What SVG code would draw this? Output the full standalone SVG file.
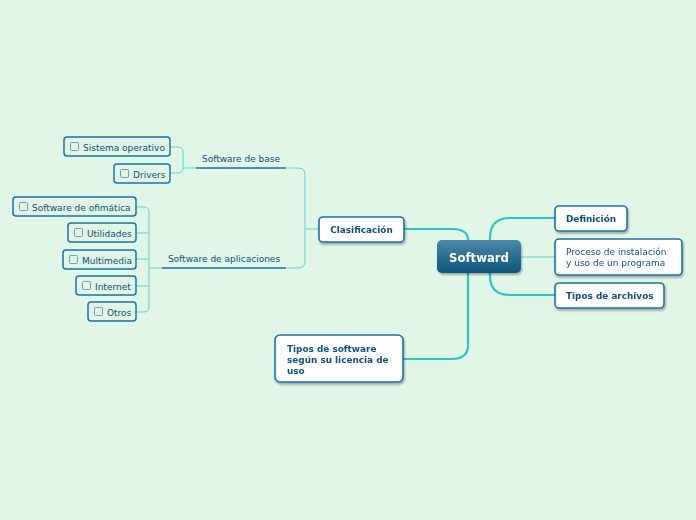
<svg xmlns="http://www.w3.org/2000/svg" width="696" height="520" viewBox="0 0 696 520">
<defs>
<linearGradient id="cg" x1="0" y1="0" x2="0" y2="1">
<stop offset="0" stop-color="#4b88a8"/>
<stop offset="1" stop-color="#0d5479"/>
</linearGradient>
<filter id="sh" x="-20%" y="-20%" width="140%" height="160%">
<feDropShadow dx="1" dy="2" stdDeviation="1.2" flood-color="#000" flood-opacity="0.3"/>
</filter>
<style>
.main{fill:#fff;stroke:#1a72a8;stroke-width:1.6}
.leaf{fill:#e0f5e6;stroke:#1a72a8;stroke-width:1.5}
.cb{fill:none;stroke:#6e9bb5;stroke-width:1}
.t{font-family:"DejaVu Sans",sans-serif;fill:#10507a}
.b{font-weight:bold;font-size:8.9px}
.s{font-size:9px}
.c{fill:none;stroke:#5fd3d0;stroke-width:1}
.ct{fill:none;stroke:#2cc4c4;stroke-width:2.2}
.ul{stroke:#1a6ea8;stroke-width:1.5}
</style>
</defs>
<rect width="696" height="520" fill="#e0f6e7"/>
<g id="connectors">
<path class="ct" d="M404,229 H452 Q468,229 468,240"/>
<path class="ct" d="M468,273 V345 Q468,359 452,359 H403"/>
<path class="ct" d="M510,218 Q490,218 490,238 V276 Q490,295 510,295 H555 M510,218 H555"/>
<path class="c" d="M521,257 H555"/>
<path class="c" d="M319,229 H305"/>
<path class="c" d="M287,168 H298 Q305,168 305,175 V261 Q305,268 298,268 H287"/>
<line class="ul" x1="196" y1="168" x2="286" y2="168"/>
<line class="ul" x1="162" y1="268" x2="286" y2="268"/>
<path class="c" d="M196,168 H183 M170,147 H178 Q183,147 183,152 V168 Q183,173 178,173 H170"/>
<path class="c" d="M162,268 H149 M136,207 H144 Q149,207 149,212 V307 Q149,312 144,312 H136 M136,233 H149 M136,259 H149 M136,286 H149"/>
</g>
<g id="softward" filter="url(#sh)">
<rect x="437" y="240" width="84" height="33" rx="5" fill="url(#cg)"/>
<text x="479" y="261.5" text-anchor="middle" font-family="DejaVu Sans,sans-serif" font-weight="bold" font-size="11.7" fill="#fff">Softward</text>
</g>
<g id="clasificacion" filter="url(#sh)">
<rect class="main" x="319" y="217" width="85" height="25" rx="4"/>
<text class="t b" x="361.5" y="232.5" text-anchor="middle">Clasificación</text>
</g>
<g id="definicion" filter="url(#sh)">
<rect class="main" x="555" y="206" width="72" height="25" rx="4"/>
<text class="t b" x="566" y="221.5">Definición</text>
</g>
<g id="proceso" filter="url(#sh)">
<rect class="main" x="555" y="239" width="127" height="36" rx="4"/>
<text class="t s" x="566" y="254.5">Proceso de instalación</text>
<text class="t s" x="566" y="266">y uso de un programa</text>
</g>
<g id="tipos-archivos" filter="url(#sh)">
<rect class="main" x="555" y="283" width="109" height="25" rx="4"/>
<text class="t b" x="566" y="298.5">Tipos de archivos</text>
</g>
<g id="tipos-software" filter="url(#sh)">
<rect class="main" x="275" y="335" width="128" height="47" rx="5"/>
<text class="t b" x="287" y="352">Tipos de software</text>
<text class="t b" x="287" y="363">según su licencia de</text>
<text class="t b" x="287" y="374">uso</text>
</g>
<g id="software-base">
<text class="t s" x="241" y="162" text-anchor="middle">Software de base</text>
</g>
<g id="software-aplicaciones">
<text class="t s" x="224" y="262" text-anchor="middle">Software de aplicaciones</text>
</g>
<g id="sistema-operativo">
<rect class="leaf" x="64" y="137" width="106" height="19" rx="3"/>
<rect class="cb" x="70.5" y="142.5" width="8" height="8" rx="1"/>
<text class="t s" x="83" y="150.5">Sistema operativo</text>
</g>
<g id="drivers">
<rect class="leaf" x="114" y="164" width="56" height="19" rx="3"/>
<rect class="cb" x="120.5" y="169.5" width="8" height="8" rx="1"/>
<text class="t s" x="133" y="177.5">Drivers</text>
</g>
<g id="ofimatica">
<rect class="leaf" x="13" y="197" width="123" height="19" rx="3"/>
<rect class="cb" x="19.5" y="202.5" width="8" height="8" rx="1"/>
<text class="t s" x="32" y="210.5">Software de ofimática</text>
</g>
<g id="utilidades">
<rect class="leaf" x="68" y="223" width="68" height="19" rx="3"/>
<rect class="cb" x="74.5" y="228.5" width="8" height="8" rx="1"/>
<text class="t s" x="87" y="236.5">Utilidades</text>
</g>
<g id="multimedia">
<rect class="leaf" x="63" y="250" width="73" height="19" rx="3"/>
<rect class="cb" x="69.5" y="255.5" width="8" height="8" rx="1"/>
<text class="t s" x="82" y="263.5">Multimedia</text>
</g>
<g id="internet">
<rect class="leaf" x="76" y="276" width="60" height="19" rx="3"/>
<rect class="cb" x="82.5" y="281.5" width="8" height="8" rx="1"/>
<text class="t s" x="95" y="289.5">Internet</text>
</g>
<g id="otros">
<rect class="leaf" x="88" y="302" width="48" height="19" rx="3"/>
<rect class="cb" x="94.5" y="307.5" width="8" height="8" rx="1"/>
<text class="t s" x="107" y="315.5">Otros</text>
</g>
</svg>
